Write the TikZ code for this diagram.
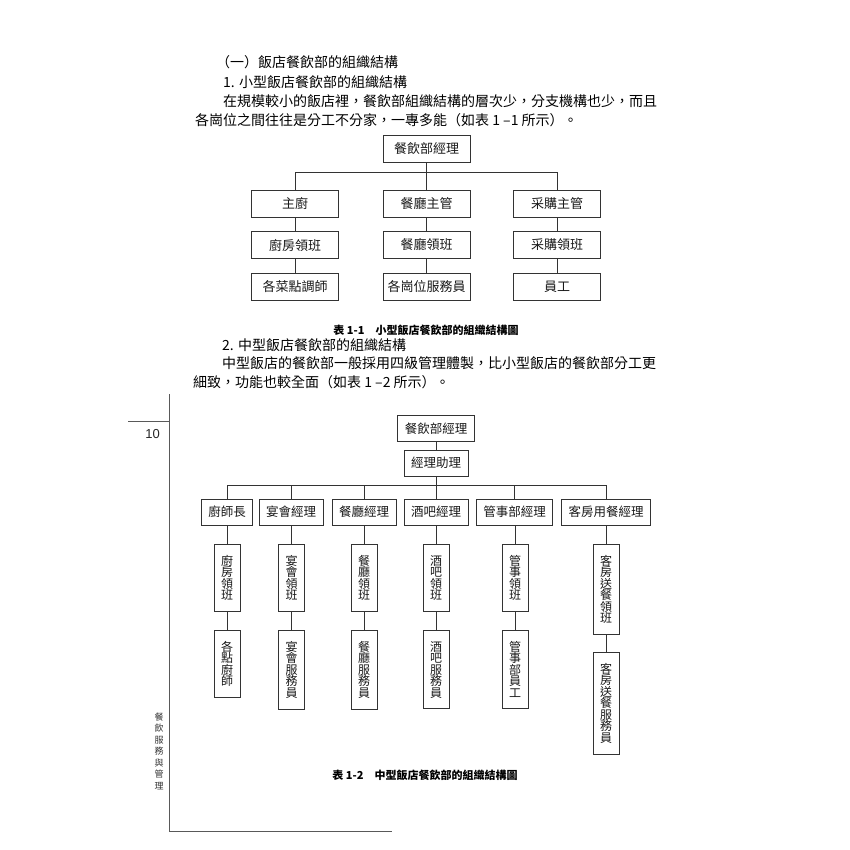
\documentclass[tikz,border=0pt]{standalone}
\usepackage{fontspec}
\usepackage{tikz}
\newfontfamily\cjk{Noto Sans CJK TC}
\newfontfamily\numfont{Liberation Sans}
\setlength{\lineskiplimit}{-20pt}

\tikzset{
	line/.style={draw=black!80, line width=0.8pt},
	box/.style={line, inner sep=0pt, font=\cjk\fontsize{13}{15}\selectfont, text=black!90},
	boxA/.style={box, minimum width=87pt, minimum height=27pt},
	boxB/.style={box, inner xsep=7pt, minimum height=26pt, font=\cjk\fontsize{12.5}{14}\selectfont},
	vbox/.style={box, anchor=north, align=center, inner xsep=7pt, inner ysep=10.8pt,
		font=\cjk\fontsize{12}{11.5}\selectfont},
	txt/.style={anchor=west, inner sep=0pt, font=\cjk\fontsize{14}{16}\selectfont, text=black},
	caption/.style={inner sep=0pt, font=\cjk\bfseries\fontsize{11}{13}\selectfont, text=black},
	margin/.style={draw=black!65, line width=0.9pt}
}

\begin{document}
\begin{tikzpicture}[x=1pt, y=-1pt]
	\useasboundingbox (0,0) rectangle (850,850);

	% text above the first chart
	\node[txt] (head) at (216, 62) {（一）飯店餐飲部的組織結構};
	\node[txt] (subA) at (223, 82) {1. 小型飯店餐飲部的組織結構};
	\node[txt] (parA1) at (223, 101) {在規模較小的飯店裡，餐飲部組織結構的層次少，分支機構也少，而且};
	\node[txt] (parA2) at (195, 120) {各崗位之間往往是分工不分家，一專多能（如表 1 –1 所示）。};

	% first chart
	\node[boxA] (mgrA) at (426.5, 149) {餐飲部經理};
	\node[boxA] (chefA) at (295, 203.5) {主廚};
	\node[boxA] (hallA) at (426.5, 203.5) {餐廳主管};
	\node[boxA] (buyA) at (557, 203.5) {采購主管};
	\node[boxA] (chefB) at (295, 245) {廚房領班};
	\node[boxA] (hallB) at (426.5, 245) {餐廳領班};
	\node[boxA] (buyB) at (557, 245) {采購領班};
	\node[boxA] (chefC) at (295, 286.5) {各菜點調師};
	\node[boxA] (hallC) at (426.5, 286.5) {各崗位服務員};
	\node[boxA] (buyC) at (557, 286.5) {員工};
	\draw[line] (mgrA.south) -- ++(0, 10) -| (chefA.north);
	\draw[line] (mgrA.south) -- (hallA.north);
	\draw[line] (mgrA.south) -- ++(0, 10) -| (buyA.north);
	\draw[line] (chefA) -- (chefB);
	\draw[line] (hallA) -- (hallB);
	\draw[line] (buyA) -- (buyB);
	\draw[line] (chefB) -- (chefC);
	\draw[line] (hallB) -- (hallC);
	\draw[line] (buyB) -- (buyC);
	\node[caption] (capA) at (426, 330) {表 1-1\quad 小型飯店餐飲部的組織結構圖};

	% text above the second chart
	\node[txt] (subB) at (222, 345) {2. 中型飯店餐飲部的組織結構};
	\node[txt] (parB1) at (222, 363.5) {中型飯店的餐飲部一般採用四級管理體製，比小型飯店的餐飲部分工更};
	\node[txt] (parB2) at (193, 382) {細致，功能也較全面（如表 1 –2 所示）。};

	% second chart
	\node[boxB] (mgrB) at (436, 428.5) {餐飲部經理};
	\node[boxB] (asst) at (436, 463) {經理助理};
	\node[boxB] (cook) at (227, 512) {廚師長};
	\node[boxB] (party) at (291, 512) {宴會經理};
	\node[boxB] (hall) at (364, 512) {餐廳經理};
	\node[boxB] (bar) at (436, 512) {酒吧經理};
	\node[boxB] (stew) at (514.5, 512) {管事部經理};
	\node[boxB] (room) at (606, 512) {客房用餐經理};

	\node[vbox] (cookL) at (227, 544) {廚\\房\\領\\班};
	\node[vbox] (partyL) at (291.5, 544) {宴\\會\\領\\班};
	\node[vbox] (hallL) at (364, 544) {餐\\廳\\領\\班};
	\node[vbox] (barL) at (436, 544) {酒\\吧\\領\\班};
	\node[vbox] (stewL) at (515, 544) {管\\事\\領\\班};
	\node[vbox] (roomL) at (606, 544) {客\\房\\送\\餐\\領\\班};

	\node[vbox] (cookS) at (227, 630) {各\\點\\廚\\師};
	\node[vbox] (partyS) at (291.5, 630) {宴\\會\\服\\務\\員};
	\node[vbox] (hallS) at (364, 630) {餐\\廳\\服\\務\\員};
	\node[vbox] (barS) at (436, 630) {酒\\吧\\服\\務\\員};
	\node[vbox] (stewS) at (515, 630) {管\\事\\部\\員\\工};
	\node[vbox] (roomS) at (606, 652) {客\\房\\送\\餐\\服\\務\\員};

	\draw[line] (mgrB) -- (asst);
	\draw[line] (asst.south) -- ++(0, 9) -| (cook.north);
	\draw[line] (asst.south) -- ++(0, 9) -| (party.north);
	\draw[line] (asst.south) -- ++(0, 9) -| (hall.north);
	\draw[line] (asst.south) -- (bar.north);
	\draw[line] (asst.south) -- ++(0, 9) -| (stew.north);
	\draw[line] (asst.south) -- ++(0, 9) -| (room.north);
	\draw[line] (cook) -- (cookL);
	\draw[line] (party.south -| partyL) -- (partyL);
	\draw[line] (hall) -- (hallL);
	\draw[line] (bar) -- (barL);
	\draw[line] (stew.south -| stewL) -- (stewL);
	\draw[line] (room) -- (roomL);
	\draw[line] (cookL) -- (cookS);
	\draw[line] (partyL) -- (partyS);
	\draw[line] (hallL) -- (hallS);
	\draw[line] (barL) -- (barS);
	\draw[line] (stewL) -- (stewS);
	\draw[line] (roomL) -- (roomS);
	\node[caption] (capB) at (425, 775) {表 1-2\quad 中型飯店餐飲部的組織結構圖};

	% page margin
	\coordinate (mTop) at (169, 394);
	\coordinate (mBot) at (169, 831);
	\coordinate (mEnd) at (392, 831);
	\coordinate (tabL) at (128, 421);
	\draw[margin] (mTop) -- (mBot) -- (mEnd);
	\draw[margin] (tabL) -- (tabL -| mTop);
	\node[inner sep=0pt, font=\numfont\fontsize{13}{15}\selectfont, text=black!85] (pageno) at (152.5, 434) {10};
	\node[inner sep=0pt, align=center, font=\cjk\fontsize{9}{11.5}\selectfont, text=black!80] (book) at (159, 751) {餐\\飲\\服\\務\\與\\管\\理};
\end{tikzpicture}
\end{document}
